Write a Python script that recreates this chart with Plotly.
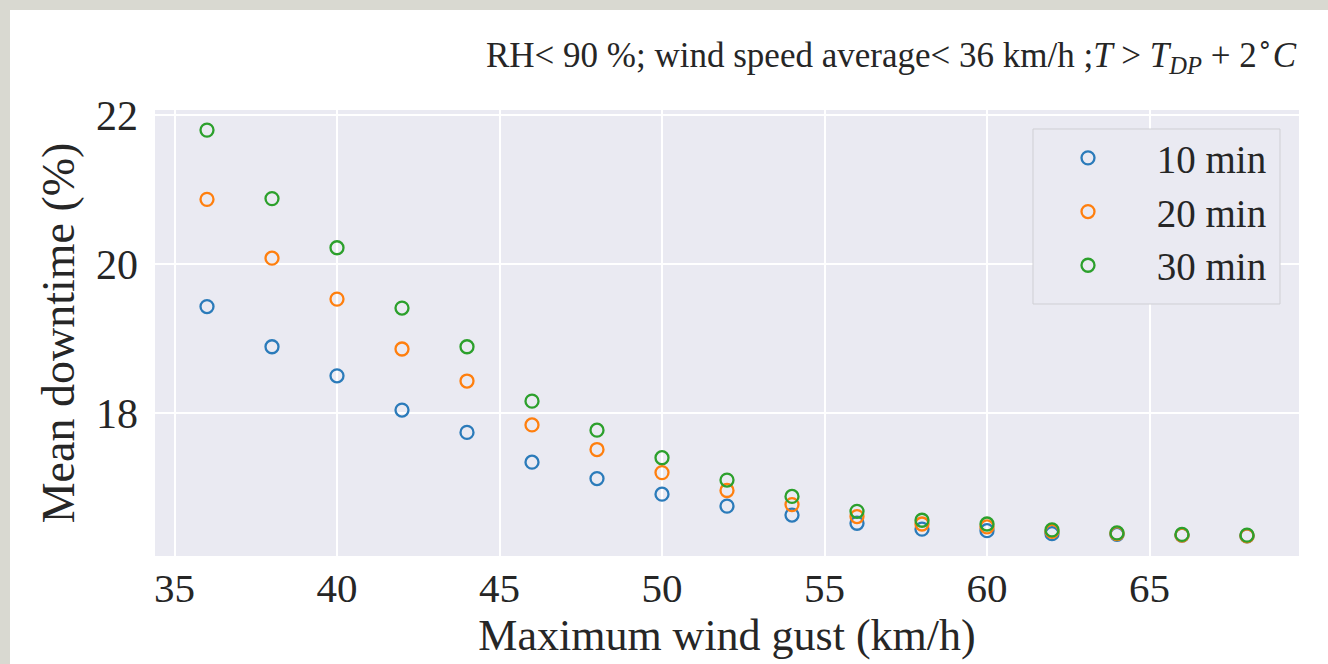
import plotly.graph_objects as go

gust = [36, 38, 40, 42, 44, 46, 48, 50, 52, 54, 56, 58, 60, 62, 64, 66, 68]
down_10 = [19.43, 18.89, 18.50, 18.04, 17.74, 17.34, 17.12, 16.91, 16.75, 16.63,
           16.52, 16.44, 16.42, 16.38, 16.37, 16.36, 16.35]
down_20 = [20.87, 20.08, 19.53, 18.86, 18.43, 17.84, 17.51, 17.20, 16.96, 16.77,
           16.61, 16.51, 16.47, 16.41, 16.38, 16.36, 16.35]
down_30 = [21.80, 20.88, 20.22, 19.41, 18.89, 18.16, 17.77, 17.40, 17.10, 16.88,
           16.68, 16.56, 16.51, 16.43, 16.39, 16.37, 16.36]
series_names = ["10 min", "20 min", "30 min"]
colors = ["#2b7bba", "#ff7f0e", "#2ca02c"]
x_ticks = [35, 40, 45, 50, 55, 60, 65]
y_ticks = [18, 20, 22]

FONT = "Liberation Serif, Times New Roman, serif"
W, H = 1328, 664
L, R, T, B = 155, 29, 110, 108
pw, ph = W - L - R, H - T - B


def px_x(p):
    return (p - L) / pw


def px_y(p):
    return (H - B - p) / ph


fig = go.Figure()
for name, ys, c in zip(series_names, [down_10, down_20, down_30], colors):
    fig.add_trace(go.Scatter(
        x=gust, y=ys, mode="markers", name="&nbsp;" * 5 + name,
        marker=dict(symbol="circle-open", size=13, color=c, line=dict(width=2.3, color=c)),
    ))

shapes = [
    # outer grey frame strips
    dict(type="rect", xref="paper", yref="paper", x0=px_x(0), x1=px_x(W), y0=px_y(10), y1=px_y(0),
         fillcolor="#d9d9d1", line=dict(width=0), layer="below"),
    dict(type="rect", xref="paper", yref="paper", x0=px_x(0), x1=px_x(10), y0=px_y(H), y1=px_y(0),
         fillcolor="#d9d9d1", line=dict(width=0), layer="below"),
    # legend box
    dict(type="rect", xref="paper", yref="paper", x0=px_x(1033), x1=px_x(1280), y0=px_y(304), y1=px_y(129),
         fillcolor="#eaeaf2", line=dict(width=1, color="#cfcfd4"), layer="above"),
]

fig.update_layout(
    width=W, height=H,
    margin=dict(l=L, r=R, t=T, b=B),
    paper_bgcolor="white",
    plot_bgcolor="#eaeaf2",
    font=dict(family=FONT, color="#262626"),
    shapes=shapes,
    showlegend=True,
    legend=dict(
        x=px_x(1068), y=px_y(126), xanchor="left", yanchor="top",
        bgcolor="rgba(0,0,0,0)", borderwidth=0,
        font=dict(family=FONT, size=39, color="#262626"),
    ),
    annotations=[dict(
        text="RH&lt; 90 %; wind speed average&lt; 36 km/h ;<i>T</i> &gt; <i>T</i><sub><i>DP</i></sub> + 2<sup>∘</sup><i>C</i>",
        xref="paper", yref="paper", x=px_x(1299), y=px_y(55), xanchor="right", yanchor="middle",
        showarrow=False, font=dict(family=FONT, size=35, color="#262626"),
    )],
    xaxis=dict(
        range=[34.4, 69.6], tickvals=x_ticks, ticktext=[str(v) for v in x_ticks],
        showgrid=True, gridcolor="white", gridwidth=1.5, zeroline=False, showline=False,
        ticks="", tickfont=dict(family=FONT, size=41, color="#262626"),
        ticklabelstandoff=4,
        title=dict(text="Maximum wind gust (km/h)", font=dict(family=FONT, size=44, color="#262626"), standoff=8),
        automargin=False,
    ),
    yaxis=dict(
        range=[16.08, 22.07], tickvals=y_ticks, ticktext=[str(v) for v in y_ticks],
        showgrid=True, gridcolor="white", gridwidth=1.5, zeroline=False, showline=False,
        ticks="", tickfont=dict(family=FONT, size=42, color="#262626"),
        ticklabelstandoff=16,
        title=dict(text="Mean downtime (%)", font=dict(family=FONT, size=46, color="#262626"), standoff=6),
        automargin=False,
    ),
)

fig.write_html("out.html")
